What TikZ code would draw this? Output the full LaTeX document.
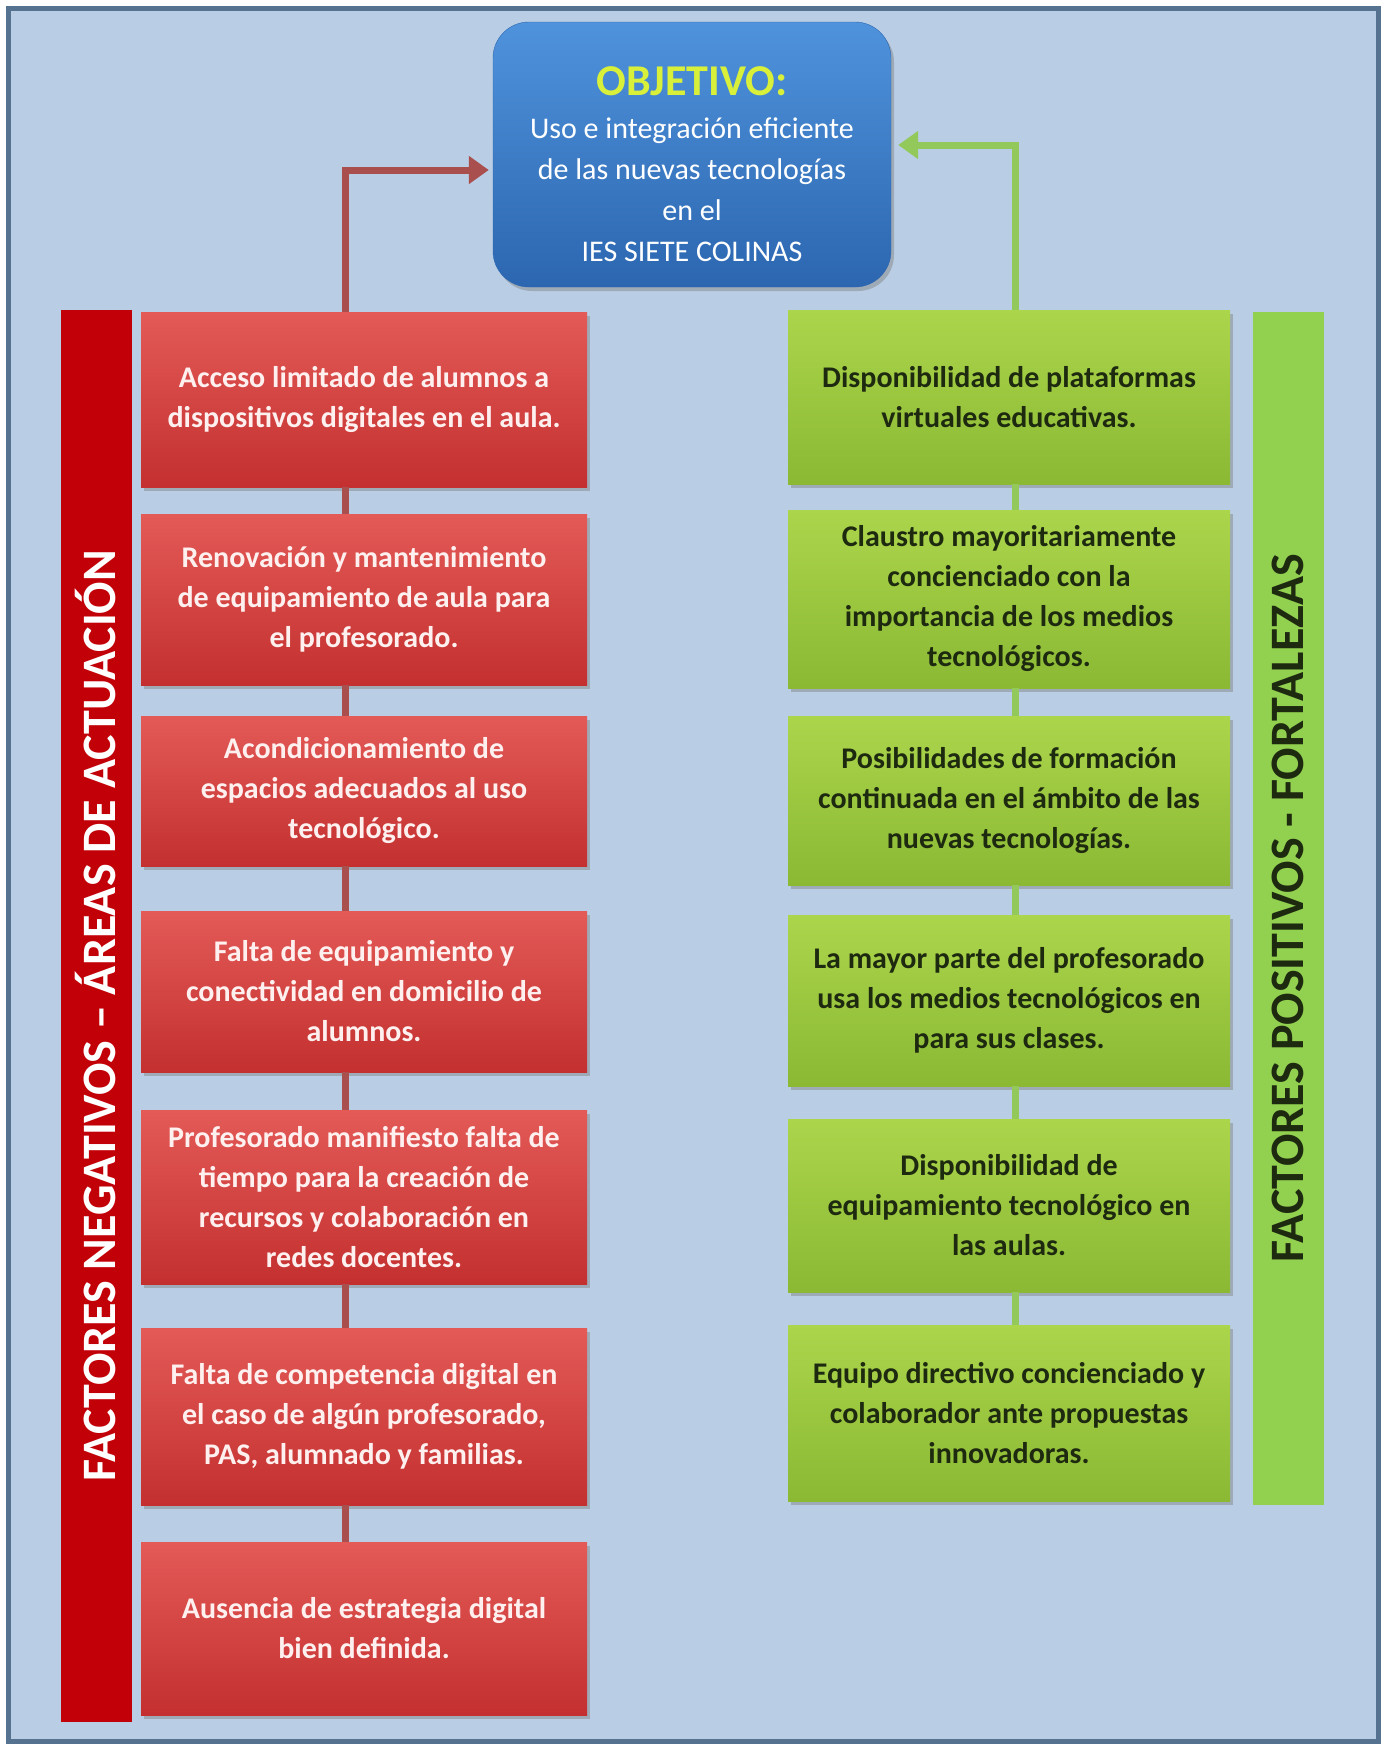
\documentclass[tikz,border=0pt]{standalone}
\usepackage{fontspec}
\setmainfont{Carlito}
\usetikzlibrary{arrows.meta,shadows}
\definecolor{frameblue}{HTML}{557391}
\definecolor{bgblue}{HTML}{B9CDE5}
\definecolor{goaltop}{HTML}{4F93DC}
\definecolor{goalbot}{HTML}{2C66B0}
\definecolor{titleyellow}{HTML}{D8F03A}
\definecolor{redtop}{HTML}{E35A57}
\definecolor{redbot}{HTML}{C3302F}
\definecolor{redbar}{HTML}{C20008}
\definecolor{redlink}{HTML}{A9504E}
\definecolor{redtext}{HTML}{FFF0F0}
\definecolor{greentop}{HTML}{ABD54B}
\definecolor{greenbot}{HTML}{8BB934}
\definecolor{greenbar}{HTML}{92D050}
\definecolor{greenlink}{HTML}{93C95B}
\definecolor{greentext}{HTML}{1E2A10}
\tikzset{
    >={Triangle[length=20pt,width=27pt]},
    foda/.style={
        frame/.append style={draw=frameblue,line width=5pt,fill=bgblue},
        goal/.append style={align=center,rounded corners=36pt,top color=goaltop,bottom color=goalbot,draw=goalbot,minimum width=398pt,minimum height=265pt,text=white,font=\fontsize{30}{41}\selectfont,drop shadow={shadow xshift=3pt,shadow yshift=-4pt,opacity=.45}},
        weakbox/.append style={align=center,top color=redtop,bottom color=redbot,minimum width=446pt,text=redtext,font=\fontsize{30}{40}\selectfont\bfseries,drop shadow={shadow xshift=3pt,shadow yshift=-4pt,opacity=.45}},
        strongbox/.append style={align=center,top color=greentop,bottom color=greenbot,minimum width=442pt,text=greentext,font=\fontsize{30}{40}\selectfont\bfseries,drop shadow={shadow xshift=3pt,shadow yshift=-4pt,opacity=.45}},
        weakbar/.append style={fill=redbar,text=white,rotate=90,minimum height=71pt,minimum width=1412pt,font=\fontsize{48}{54}\selectfont\bfseries},
        strongbar/.append style={fill=greenbar,text=greentext,rotate=90,minimum height=71pt,minimum width=1193pt,font=\fontsize{48}{54}\selectfont\bfseries},
        weaklink/.append style={draw=redlink,line width=7pt,shorten >=4pt},
        stronglink/.append style={draw=greenlink,line width=7pt,shorten >=7pt}
    }
}

\begin{document}
\begin{tikzpicture}[foda,x=1pt,y=-1pt]
    \useasboundingbox (0,0) rectangle (1385,1746);
    \draw[frame] (8,8) rectangle (1378,1741);
    % objetivo
    \node[goal] (obj) at (692,154.5) {{\color{titleyellow}\fontsize{44}{50}\selectfont\bfseries\rule{0pt}{48pt}OBJETIVO:}\\[2pt] Uso e integración eficiente\\ de las nuevas tecnologías\\ en el\\ IES SIETE COLINAS};
    % side bars
    \node[weakbar] (nbar) at (96,1016) {FACTORES NEGATIVOS – ÁREAS DE ACTUACIÓN};
    \node[strongbar] (pbar) at (1288,908.5) {FACTORES POSITIVOS - FORTALEZAS};
    % factores negativos
    \node[weakbox,minimum height=175pt] (n1) at (364,399.5) {Acceso limitado de alumnos a\\ dispositivos digitales en el aula.};
    \node[weakbox,minimum height=171pt] (n2) at (364,599.5) {Renovación y mantenimiento\\ de equipamiento de aula para\\ el profesorado.};
    \node[weakbox,minimum height=150pt] (n3) at (364,791) {Acondicionamiento de\\ espacios adecuados al uso\\ tecnológico.};
    \node[weakbox,minimum height=161pt] (n4) at (364,991.5) {Falta de equipamiento y\\ conectividad en domicilio de\\ alumnos.};
    \node[weakbox,minimum height=174pt] (n5) at (364,1197) {Profesorado manifiesto falta de\\ tiempo para la creación de\\ recursos y colaboración en\\ redes docentes.};
    \node[weakbox,minimum height=177pt] (n6) at (364,1416.5) {Falta de competencia digital en\\ el caso de algún profesorado,\\ PAS, alumnado y familias.};
    \node[weakbox,minimum height=173pt] (n7) at (364,1628.5) {Ausencia de estrategia digital\\ bien definida.};
    % factores positivos
    \node[strongbox,minimum height=174pt] (p1) at (1009,397) {Disponibilidad de plataformas\\ virtuales educativas.};
    \node[strongbox,minimum height=178pt] (p2) at (1009,599) {Claustro mayoritariamente\\ concienciado con la\\ importancia de los medios\\ tecnológicos.};
    \node[strongbox,minimum height=169pt] (p3) at (1009,800.5) {Posibilidades de formación\\ continuada en el ámbito de las\\ nuevas tecnologías.};
    \node[strongbox,minimum height=171pt] (p4) at (1009,1000.5) {La mayor parte del profesorado\\ usa los medios tecnológicos en\\ para sus clases.};
    \node[strongbox,minimum height=173pt] (p5) at (1009,1205.5) {Disponibilidad de\\ equipamiento tecnológico en\\ las aulas.};
    \node[strongbox,minimum height=176pt] (p6) at (1009,1413) {Equipo directivo concienciado y\\ colaborador ante propuestas\\ innovadoras.};
    % links
    \foreach \a/\b in {n1/n2,n2/n3,n3/n4,n4/n5,n5/n6,n6/n7}
        \draw[weaklink,shorten >=0pt] ([xshift=-19pt]\a.south) -- ([xshift=-19pt]\b.north);
    \foreach \a/\b in {p1/p2,p2/p3,p3/p4,p4/p5,p5/p6}
        \draw[stronglink,shorten >=0pt] ([xshift=6pt]\a.south) -- ([xshift=6pt]\b.north);
    \draw[weaklink,->] ([xshift=-19pt]n1.north) |- ([yshift=-15.5pt]obj.west);
    \draw[stronglink,->] ([xshift=6pt]p1.north) |- ([yshift=9.5pt]obj.east);
\end{tikzpicture}
\end{document}
